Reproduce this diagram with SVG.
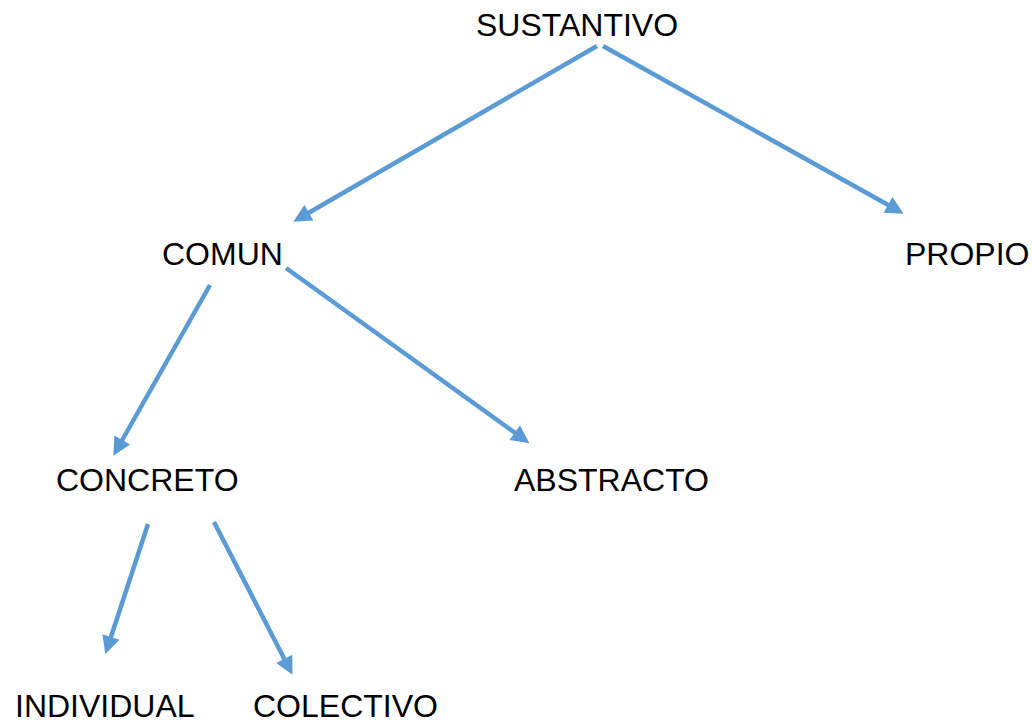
<svg xmlns="http://www.w3.org/2000/svg" width="1032" height="722" viewBox="0 0 1032 722">
<style>
.lbl{font-family:"Liberation Sans",Arial,sans-serif;font-size:32px;fill:#000}
.edge{stroke:#5B9BD5;stroke-width:4.5;fill:none;marker-end:url(#ah)}
</style>
<defs>
<marker id="ah" viewBox="0 0 10 10" refX="7" refY="5" markerWidth="4.5" markerHeight="4" orient="auto" markerUnits="strokeWidth">
<path d="M0,0 L10,5 L0,10 z" fill="#5B9BD5"/>
</marker>
</defs>
<rect width="1032" height="722" fill="#fff"/>
<g id="connectors">
<line class="edge" x1="597" y1="46" x2="298" y2="219"/>
<line class="edge" x1="603" y1="46" x2="899" y2="211"/>
<line class="edge" x1="210" y1="285" x2="116" y2="451"/>
<line class="edge" x1="286" y1="268" x2="525" y2="440"/>
<line class="edge" x1="148" y1="524" x2="107" y2="649"/>
<line class="edge" x1="214" y1="522" x2="290" y2="670"/>
</g>
<g id="sustantivo"><text class="lbl" x="476" y="36">SUSTANTIVO</text></g>
<g id="comun"><text class="lbl" x="162" y="265">COMUN</text></g>
<g id="propio"><text class="lbl" x="905" y="265">PROPIO</text></g>
<g id="concreto"><text class="lbl" x="56" y="491">CONCRETO</text></g>
<g id="abstracto"><text class="lbl" x="514" y="491">ABSTRACTO</text></g>
<g id="individual"><text class="lbl" x="15" y="717">INDIVIDUAL</text></g>
<g id="colectivo"><text class="lbl" x="253" y="717">COLECTIVO</text></g>
</svg>
